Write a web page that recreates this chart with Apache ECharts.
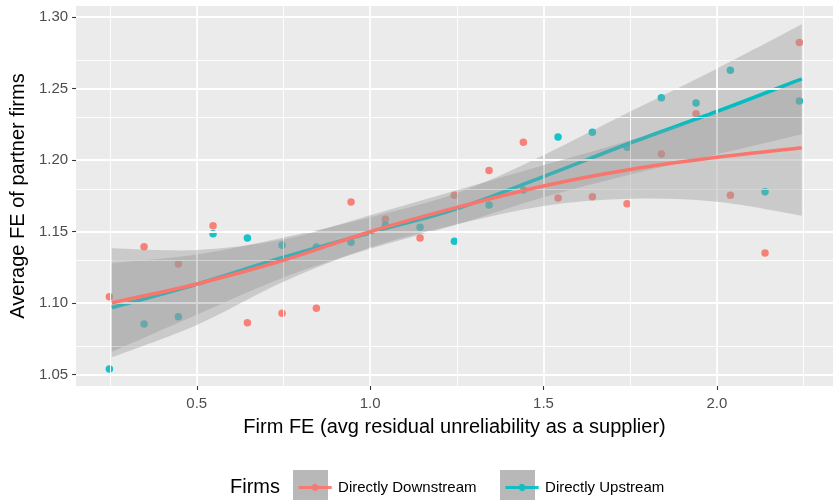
<!DOCTYPE html>
<html>
<head>
<meta charset="utf-8">
<script src="https://cdn.jsdelivr.net/npm/echarts@6/dist/echarts.min.js"></script>
<style>
    html, body { margin: 0; padding: 0; background: #fff; }
    #chart { width: 833px; height: 500px; }
</style>
</head>
<body>
<div id="chart"></div>
<script>
    // binned firm FE (x) and the partner-firm averages of both groups
    const firmFE = [0.248, 0.348, 0.447, 0.547, 0.646, 0.746, 0.845, 0.945, 1.044, 1.144, 1.243,
        1.343, 1.442, 1.542, 1.641, 1.741, 1.840, 1.940, 2.039, 2.139, 2.238];
    const downstream = [1.1045, 1.1395, 1.1274, 1.1542, 1.0864, 1.0929, 1.0964, 1.1708, 1.1587, 1.1456, 1.1755,
        1.1927, 1.2125, 1.1736, 1.1745, 1.1696, 1.2043, 1.2325, 1.1755, 1.1351, 1.2822];
    const upstream = [1.0540, 1.0855, 1.0906, 1.1486, 1.1456, 1.1405, 1.1393, 1.1426, 1.1545, 1.1531, 1.1433,
        1.1687, 1.1792, 1.2162, 1.2195, 1.2090, 1.2437, 1.2400, 1.2629, 1.1780, 1.2414];

    const fitX = [0.255, 0.5, 0.75, 1.0, 1.25, 1.5, 1.75, 2.0, 2.245];
    const downFit = [1.1004, 1.1135, 1.1300, 1.1500, 1.1670, 1.1820, 1.1935, 1.2020, 1.2087];
    const downLow = [1.0622, 1.0848, 1.1150, 1.1390, 1.1552, 1.1680, 1.1730, 1.1710, 1.1612];
    const downHigh = [1.1384, 1.1372, 1.1445, 1.1615, 1.1790, 1.1965, 1.2140, 1.2330, 1.2560];
    const upFit = [1.0969, 1.1132, 1.1321, 1.1493, 1.1660, 1.1885, 1.2120, 1.2340, 1.2568];
    const upLow = [1.0660, 1.0920, 1.1180, 1.1380, 1.1550, 1.1740, 1.1900, 1.2040, 1.2181];
    const upHigh = [1.1280, 1.1340, 1.1460, 1.1600, 1.1770, 1.2035, 1.2340, 1.2640, 1.2950];

    // tick labels / grid
    const xTicks = [0.5, 1.0, 1.5, 2.0];
    const xMinor = [0.25, 0.75, 1.25, 1.75, 2.25];
    const yTicks = [1.05, 1.10, 1.15, 1.20, 1.25, 1.30];
    const yMinor = [1.075, 1.125, 1.175, 1.225, 1.275];

    const RED = '#F8766D';
    const CYAN = '#00BFC4';
    const BAND = 'rgba(153,153,153,0.4)';
    const FONT = 'Liberation Sans';

    function pairs(xs, ys) {
        return xs.map(function (x, i) { return [x, ys[i]]; });
    }

    function gridLines(values, key, width) {
        return values.map(function (v) {
            let item = { lineStyle: { width: width } };
            item[key] = v;
            return item;
        });
    }

    // catmull-rom through pixel points -> svg cubic segments
    function curve(p) {
        let s = '';
        for (let i = 0; i < p.length - 1; i++) {
            let p0 = p[Math.max(i - 1, 0)], p1 = p[i], p2 = p[i + 1], p3 = p[Math.min(i + 2, p.length - 1)];
            s += ' C' + [
                p1[0] + (p2[0] - p0[0]) / 6, p1[1] + (p2[1] - p0[1]) / 6,
                p2[0] - (p3[0] - p1[0]) / 6, p2[1] - (p3[1] - p1[1]) / 6,
                p2[0], p2[1]
            ].join(' ');
        }
        return s;
    }

    function toPixels(api, xs, ys) {
        return xs.map(function (x, i) { return api.coord([x, ys[i]]); });
    }

    // confidence ribbon drawn as one closed path
    function bandSeries(name, lo, hi, z) {
        return {
            name: name,
            type: 'custom',
            silent: true,
            z: z,
            data: [[fitX[0], lo[0]]],
            renderItem: function (params, api) {
                let top = toPixels(api, fitX, hi);
                let bot = toPixels(api, fitX, lo).reverse();
                let d = 'M' + top[0].join(' ') + curve(top) + ' L' + bot[0].join(' ') + curve(bot) + ' Z';
                return { type: 'path', shape: { pathData: d }, style: { fill: BAND } };
            }
        };
    }

    // smoothed fit line
    function fitSeries(name, ys, color, z) {
        return {
            name: name,
            type: 'custom',
            silent: true,
            z: z,
            itemStyle: { color: color },
            data: [[fitX[0], ys[0]]],
            renderItem: function (params, api) {
                let p = toPixels(api, fitX, ys);
                let d = 'M' + p[0].join(' ') + curve(p);
                return {
                    type: 'path', shape: { pathData: d },
                    style: { fill: null, stroke: color, lineWidth: 3.6, lineCap: 'butt' }
                };
            }
        };
    }

    // legend key: thick line with a dot in the middle
    const keyIcon = 'path://M0 3.5H13.8A3.5 3.5 0 0 1 20.2 3.5H34V6.5H20.2A3.5 3.5 0 0 1 13.8 6.5H0Z';

    let chart = echarts.init(document.getElementById('chart'));

    let option = {
        animation: false,
        backgroundColor: '#fff',
        textStyle: { fontFamily: FONT },
        grid: {
            left: 76, right: 0, top: 6, bottom: 114,
            show: true, backgroundColor: '#EBEBEB', borderWidth: 0
        },
        xAxis: {
            type: 'value',
            min: 0.152,
            max: 2.335,
            name: 'Firm FE (avg residual unreliability as a supplier)',
            nameLocation: 'middle',
            nameGap: 31,
            nameTextStyle: { fontSize: 20, color: '#000', fontFamily: FONT },
            axisLine: { show: false },
            axisTick: { show: true, customValues: xTicks, length: 4, lineStyle: { color: '#333', width: 1.1 } },
            axisLabel: {
                customValues: xTicks, margin: 10, fontSize: 15, color: '#4D4D4D', fontFamily: FONT,
                formatter: function (v) { return v.toFixed(1); }
            },
            splitLine: { show: false }
        },
        yAxis: {
            type: 'value',
            min: 1.0421,
            max: 1.3078,
            name: 'Average FE of partner firms',
            nameLocation: 'middle',
            nameGap: 44,
            nameTextStyle: { fontSize: 20, color: '#000', fontFamily: FONT },
            axisLine: { show: false },
            axisTick: { show: true, customValues: yTicks, length: 4, lineStyle: { color: '#333', width: 1.1 } },
            axisLabel: {
                customValues: yTicks, margin: 8, fontSize: 15, color: '#4D4D4D', fontFamily: FONT,
                formatter: function (v) { return v.toFixed(2); }
            },
            splitLine: { show: false }
        },
        legend: [{
            data: [{ name: 'Directly Downstream', icon: keyIcon }],
            left: 293.5, top: 475,
            itemWidth: 34, itemHeight: 7,
            selectedMode: false,
            textStyle: { fontSize: 15, color: '#000', fontFamily: FONT, padding: [0, 0, 0, 1] }
        }, {
            data: [{ name: 'Directly Upstream', icon: keyIcon }],
            left: 500.5, top: 475,
            itemWidth: 34, itemHeight: 7,
            selectedMode: false,
            textStyle: { fontSize: 15, color: '#000', fontFamily: FONT, padding: [0, 0, 0, 1] }
        }],
        graphic: [
            { type: 'rect', left: 293, top: 470, shape: { width: 35, height: 30 }, style: { fill: '#B8B8B8' } },
            { type: 'rect', left: 500, top: 470, shape: { width: 35, height: 30 }, style: { fill: '#B8B8B8' } },
            { type: 'text', left: 230, top: 477, style: { text: 'Firms', fontSize: 20, fill: '#000', fontFamily: FONT } }
        ],
        series: [
            {
                name: 'grid',
                type: 'line',
                data: [],
                silent: true,
                z: 1,
                markLine: {
                    silent: true,
                    animation: false,
                    symbol: ['none', 'none'],
                    label: { show: false },
                    lineStyle: { color: '#fff', type: 'solid' },
                    data: gridLines(xMinor, 'xAxis', 0.9)
                        .concat(gridLines(yMinor, 'yAxis', 0.9))
                        .concat(gridLines(xTicks, 'xAxis', 1.8))
                        .concat(gridLines(yTicks, 'yAxis', 1.8))
                }
            },
            {
                name: 'Directly Downstream',
                type: 'scatter',
                data: pairs(firmFE, downstream),
                symbolSize: 7.5,
                itemStyle: { color: RED, opacity: 0.9 },
                z: 2
            },
            {
                name: 'Directly Upstream',
                type: 'scatter',
                data: pairs(firmFE, upstream),
                symbolSize: 7.5,
                itemStyle: { color: CYAN, opacity: 0.9 },
                z: 2
            },
            bandSeries('up-band', upLow, upHigh, 3),
            fitSeries('Directly Upstream', upFit, CYAN, 4),
            bandSeries('down-band', downLow, downHigh, 5),
            fitSeries('Directly Downstream', downFit, RED, 6)
        ]
    };

    chart.setOption(option);
</script>
</body>
</html>
